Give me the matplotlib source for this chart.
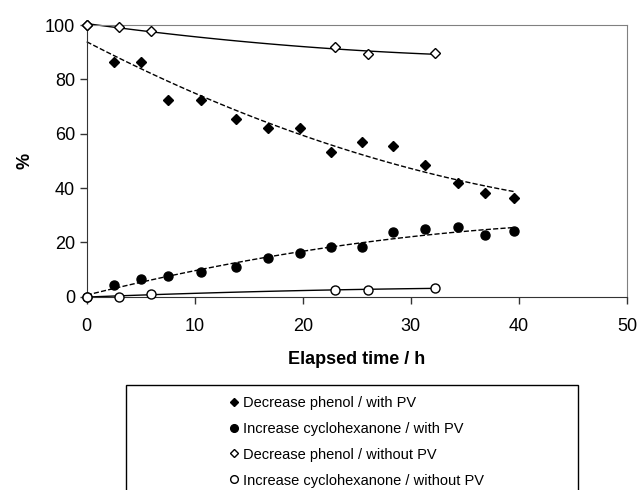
import numpy as np
import matplotlib.pyplot as plt
from matplotlib.patches import Rectangle

plt.rcParams['font.family'] = ['Liberation Sans', 'DejaVu Sans']

# filled diamonds: decrease phenol, with PV
t_ph_pv = [0, 2.5, 5.0, 7.5, 10.6, 13.8, 16.8, 19.75, 22.6, 25.5, 28.3, 31.3, 34.4, 36.9, 39.5]
ph_pv = [100, 86.5, 86.5, 72.4, 72.4, 65.4, 62.0, 62.0, 53.1, 56.9, 55.5, 48.5, 41.7, 38.2, 36.3]
# filled circles: increase cyclohexanone, with PV
t_cy_pv = [0, 2.5, 5.0, 7.5, 10.6, 13.8, 16.8, 19.75, 22.6, 25.5, 28.3, 31.3, 34.4, 36.9, 39.5]
cy_pv = [0, 4.3, 6.4, 7.5, 9.1, 10.8, 14.1, 16.2, 18.2, 18.3, 23.9, 25.0, 25.5, 22.6, 24.3]
# open diamonds: decrease phenol, without PV
t_ph = [0, 3.0, 5.95, 23.0, 26.0, 32.25]
ph = [100, 99.4, 97.7, 91.8, 89.2, 89.7]
# open circles: increase cyclohexanone, without PV
t_cy = [0, 2.95, 5.95, 23.0, 26.0, 32.25]
cy = [0, 0, 0.9, 2.6, 2.6, 3.1]

labels = ['Decrease phenol / with PV', 'Increase cyclohexanone / with PV',
          'Decrease phenol / without PV', 'Increase cyclohexanone / without PV']

fig = plt.figure(figsize=(6.4, 4.9), dpi=100)
ax = fig.add_axes([86.7/640, 1-296.7/490, 540.3/640, 271.7/490])

# polynomial trend lines (order 2), as in the original spreadsheet
def trend(t, y, ls):
    c = np.polyfit(t, y, 2)
    xx = np.linspace(0, max(t), 100)
    ax.plot(xx, np.polyval(c, xx), ls, color='black', lw=1, zorder=2)

trend(t_ph_pv, ph_pv, '--')
trend(t_cy_pv, cy_pv, '--')
trend(t_ph, ph, '-')
trend(t_cy, cy, '-')

h1, = ax.plot(t_ph_pv, ph_pv, 'D', ms=4.8, color='black', ls='none', zorder=3, label=labels[0])
h2, = ax.plot(t_cy_pv, cy_pv, 'o', ms=6.5, color='black', ls='none', zorder=3, label=labels[1])
h3, = ax.plot(t_ph, ph, 'D', ms=4.8, mfc='white', mec='black', mew=1, ls='none', zorder=4, label=labels[2])
h4, = ax.plot(t_cy, cy, 'o', ms=6.5, mfc='white', mec='black', mew=1, ls='none', zorder=4, label=labels[3])

ax.set_xlim(0, 50)
ax.set_ylim(0, 100)
ax.set_xticks(range(0, 51, 10))
ax.set_yticks(range(0, 101, 20))
ax.tick_params(direction='out', length=5, width=1, labelsize=13, colors='#333333', labelcolor='black')
ax.tick_params(axis='x', pad=10)
for s in ['top', 'right']:
    ax.spines[s].set_color('#808080')
for s in ['left', 'bottom']:
    ax.spines[s].set_color('#333333')
ax.set_xlabel('Elapsed time / h', fontsize=13, fontweight='bold', labelpad=12)
ax.set_ylabel('%', fontsize=13, fontweight='bold', labelpad=8)
for l in ax.lines:
    l.set_clip_on(False)

# legend box below the plot (runs off the bottom edge)
fig.patches.append(Rectangle((126/640, 1-560/490), 452/640, 175/490, transform=fig.transFigure,
                             fill=False, edgecolor='black', lw=1))
fig.legend(handles=[h1, h2, h3, h4], loc='upper left', bbox_to_anchor=(218/640, 1-384/490),
           frameon=False, fontsize=10.5, labelspacing=0.82, handlelength=0.6,
           handletextpad=0.3, markerscale=0.85, borderpad=0.3)

fig.savefig('out.png', dpi=100)
